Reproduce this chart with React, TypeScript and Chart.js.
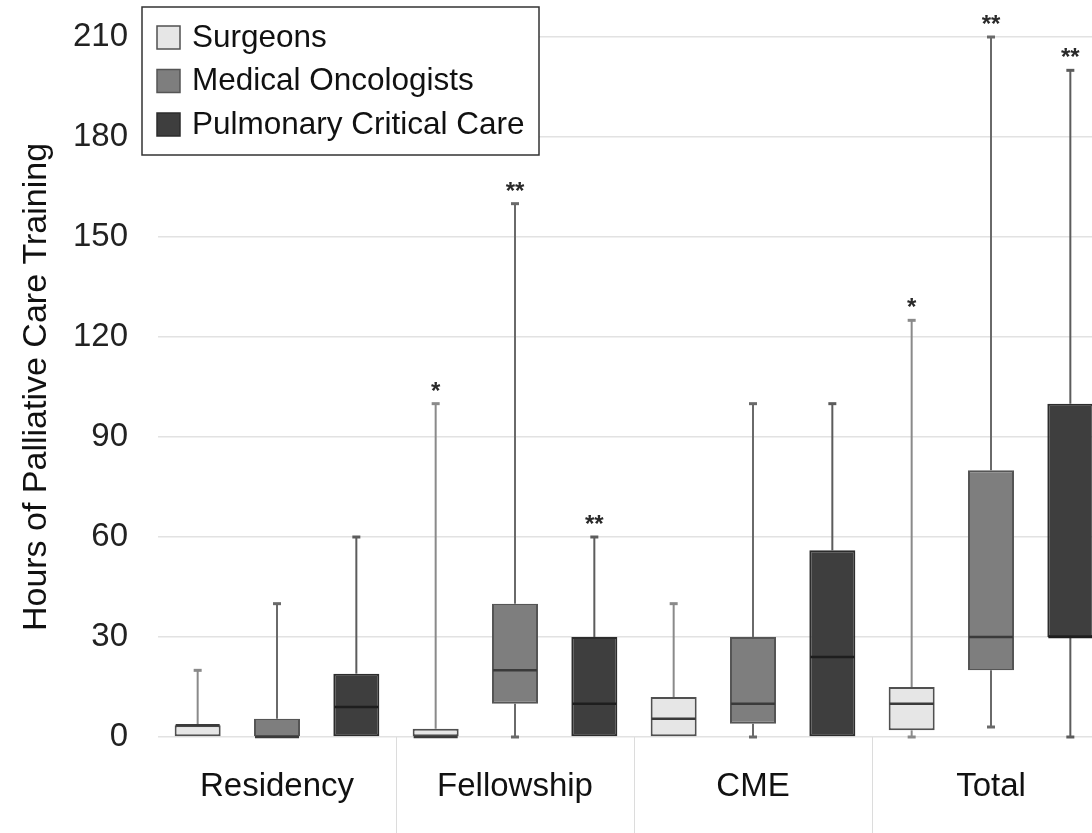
import React, { useEffect, useRef } from "react";
import { Chart, registerables } from "chart.js";

Chart.register(...registerables);

const categories = ["Residency", "Fellowship", "CME", "Total"];
const seriesNames = ["Surgeons", "Medical Oncologists", "Pulmonary Critical Care"];

const surgeonsMin = [0, 0, 0, 0];
const surgeonsQ1 = [0, 0, 0, 2];
const surgeonsMedian = [3.5, 0, 5.5, 10];
const surgeonsQ3 = [3.5, 2.5, 12, 15];
const surgeonsMax = [20, 100, 40, 125];
const surgeonsSig = ["", "*", "", "*"];

const medOncMin = [0, 0, 0, 3];
const medOncQ1 = [0, 10, 4, 20];
const medOncMedian = [0, 20, 10, 30];
const medOncQ3 = [5.5, 40, 30, 80];
const medOncMax = [40, 160, 100, 210];
const medOncSig = ["", "**", "", "**"];

const pulmMin = [0, 0, 0, 0];
const pulmQ1 = [0, 0, 0, 30];
const pulmMedian = [9, 10, 24, 30];
const pulmQ3 = [19, 30, 56, 100];
const pulmMax = [60, 60, 100, 200];
const pulmSig = ["", "**", "", "**"];

const yTicks = [0, 30, 60, 90, 120, 150, 180, 210];

const FONT = "'Liberation Sans', Arial, Helvetica, sans-serif";

export default function App() {
  const ref = useRef<HTMLCanvasElement>(null);

  useEffect(() => {
    if (!ref.current) return;
    const stats = [
      { min: surgeonsMin, q1: surgeonsQ1, med: surgeonsMedian, q3: surgeonsQ3, max: surgeonsMax, sig: surgeonsSig, fill: "#e6e6e6", border: "#505050", whisker: "#8a8a8a", median: "#3a3a3a" },
      { min: medOncMin, q1: medOncQ1, med: medOncMedian, q3: medOncQ3, max: medOncMax, sig: medOncSig, fill: "#7e7e7e", border: "#555555", whisker: "#6a6a6a", median: "#3a3a3a" },
      { min: pulmMin, q1: pulmQ1, med: pulmMedian, q3: pulmQ3, max: pulmMax, sig: pulmSig, fill: "#3e3e3e", border: "#2c2c2c", whisker: "#5c5c5c", median: "#1e1e1e" },
    ];

    const line = (ctx: CanvasRenderingContext2D, x1: number, y1: number, x2: number, y2: number) => {
      ctx.beginPath();
      ctx.moveTo(x1, y1);
      ctx.lineTo(x2, y2);
      ctx.stroke();
    };

    const boxPlugin = {
      id: "boxWhiskers",
      beforeDatasetsDraw(chart: any) {
        const ctx = chart.ctx as CanvasRenderingContext2D;
        const ys = chart.scales.y;
        stats.forEach((s, di) => {
          const meta = chart.getDatasetMeta(di);
          meta.data.forEach((bar: any, j: number) => {
            const x = bar.x;
            ctx.save();
            ctx.strokeStyle = s.whisker;
            ctx.lineWidth = 2;
            const yMax = ys.getPixelForValue(s.max[j]);
            const yQ3 = ys.getPixelForValue(s.q3[j]);
            const yQ1 = ys.getPixelForValue(s.q1[j]);
            const yMin = ys.getPixelForValue(s.min[j]);
            line(ctx, x, yQ3, x, yMax);
            ctx.lineWidth = 3;
            line(ctx, x - 4, yMax, x + 4, yMax);
            if (s.q1[j] > s.min[j]) {
              ctx.lineWidth = 2;
              line(ctx, x, yQ1, x, yMin);
              ctx.lineWidth = 3;
              line(ctx, x - 4, yMin, x + 4, yMin);
            }
            ctx.restore();
          });
        });
      },
      afterDatasetsDraw(chart: any) {
        const ctx = chart.ctx as CanvasRenderingContext2D;
        const ys = chart.scales.y;
        stats.forEach((s, di) => {
          const meta = chart.getDatasetMeta(di);
          meta.data.forEach((bar: any, j: number) => {
            const x = bar.x;
            const w = bar.width;
            ctx.save();
            ctx.strokeStyle = s.median;
            ctx.lineWidth = 2.5;
            const yMed = ys.getPixelForValue(s.med[j]);
            line(ctx, x - w / 2 + 1, yMed, x + w / 2 - 1, yMed);
            if (s.sig[j]) {
              ctx.fillStyle = "#2a2a2a";
              ctx.font = `bold 24px ${FONT}`;
              ctx.textAlign = "center";
              ctx.textBaseline = "alphabetic";
              ctx.fillText(s.sig[j], x, ys.getPixelForValue(s.max[j]) - 5);
            }
            ctx.restore();
          });
        });
      },
      afterDraw(chart: any) {
        const ctx = chart.ctx as CanvasRenderingContext2D;
        const xs = chart.scales.x;
        const area = chart.chartArea;
        ctx.save();
        ctx.strokeStyle = "#dcdcdc";
        ctx.lineWidth = 1;
        for (let j = 1; j < categories.length; j++) {
          const px = (xs.getPixelForValue(j - 1) + xs.getPixelForValue(j)) / 2;
          line(ctx, Math.round(px) + 0.5, area.bottom, Math.round(px) + 0.5, chart.height);
        }
        // legend
        const lx = 142, ly = 7, lw = 397, lh = 148;
        ctx.fillStyle = "#ffffff";
        ctx.fillRect(lx, ly, lw, lh);
        ctx.strokeStyle = "#333333";
        ctx.lineWidth = 1.5;
        ctx.strokeRect(lx, ly, lw, lh);
        ctx.font = `31.5px ${FONT}`;
        ctx.textBaseline = "middle";
        ctx.textAlign = "left";
        seriesNames.forEach((name, i) => {
          const cy = 37 + i * 43.5;
          ctx.fillStyle = stats[i].fill;
          ctx.fillRect(157, cy - 11, 23, 23);
          ctx.strokeStyle = stats[i].border;
          ctx.lineWidth = 1.5;
          ctx.strokeRect(157, cy - 11, 23, 23);
          ctx.fillStyle = "#111111";
          ctx.fillText(name, 192, cy + 1);
        });
        ctx.restore();
      },
    };

    const chart = new Chart(ref.current, {
      type: "bar",
      data: {
        labels: categories,
        datasets: stats.map((s, i) => ({
          label: seriesNames[i],
          data: s.q1.map((v, j) => [v, s.q3[j]]),
          backgroundColor: s.fill,
          borderColor: s.border,
          borderWidth: 2,
          borderSkipped: false,
          categoryPercentage: 1.0,
          barPercentage: 0.58,
        })),
      },
      options: {
        responsive: false,
        animation: false,
        layout: { padding: { top: 37, right: 2, left: 0, bottom: 0 } },
        plugins: {
          legend: { display: false },
          tooltip: { enabled: false },
        },
        scales: {
          x: {
            grid: { display: false, drawTicks: false },
            border: { display: false },
            ticks: {
              color: "#111111",
              font: { family: FONT, size: 33 },
              padding: 30,
            },
            afterFit(scale: any) {
              scale.height = 96;
            },
          },
          y: {
            min: 0,
            max: 210,
            afterBuildTicks(scale: any) {
              scale.ticks = yTicks.map((v) => ({ value: v }));
            },
            grid: { color: "#e2e2e2", lineWidth: 1.5, drawTicks: false },
            border: { display: false },
            ticks: {
              color: "#222222",
              font: { family: FONT, size: 33 },
              padding: 30,
            },
            title: {
              display: true,
              text: "Hours of Palliative Care Training",
              color: "#111111",
              font: { family: FONT, size: 34 },
              padding: { top: 16, bottom: 0 },
            },
            afterFit(scale: any) {
              scale.width = 158;
              scale.paddingTop = 0;
              scale.paddingBottom = 0;
            },
          },
        },
      },
      plugins: [boxPlugin],
    });
    return () => chart.destroy();
  }, []);

  return (
    <div style={{ position: "fixed", left: 0, top: 0, width: 1092, height: 833, overflow: "hidden", background: "#ffffff" }}>
      <canvas ref={ref} width={1112} height={833} style={{ width: 1112, height: 833, display: "block" }} />
    </div>
  );
}
